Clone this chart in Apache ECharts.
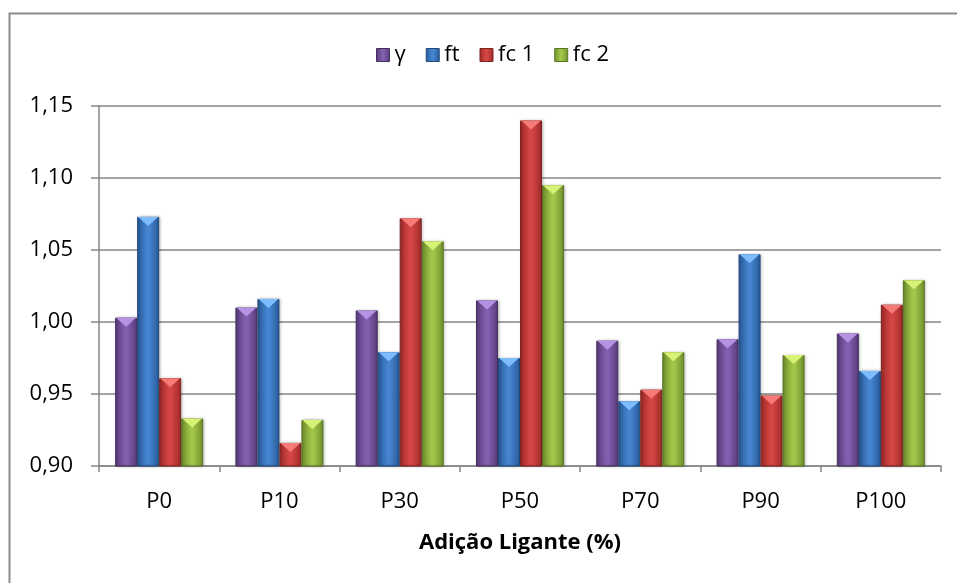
<!DOCTYPE html>
<html>
<head>
<meta charset="utf-8">
<script src="https://cdn.jsdelivr.net/npm/echarts@6/dist/echarts.min.js"></script>
<style>
  html, body { margin: 0; padding: 0; background: #fff; }
  #chart { width: 957px; height: 583px; }
</style>
</head>
<body>
<div id="chart"></div>
<script>
// Categories and measured ratios per mix
const categories = ['P0', 'P10', 'P30', 'P50', 'P70', 'P90', 'P100'];
const seriesNames = ['γ', 'ft', 'fc 1', 'fc 2'];
const gammaValues = [1.003, 1.010, 1.008, 1.015, 0.987, 0.988, 0.992];
const ftValues    = [1.073, 1.016, 0.979, 0.975, 0.945, 1.047, 0.966];
const fc1Values   = [0.961, 0.916, 1.072, 1.140, 0.953, 0.949, 1.012];
const fc2Values   = [0.933, 0.932, 1.056, 1.095, 0.979, 0.977, 1.029];
const yTicks = { min: 0.90, max: 1.15, interval: 0.05 };

const allValues = [gammaValues, ftValues, fc1Values, fc2Values];

// dark edge, light centre, bevel tip colour
const palette = [
  { edge: '#573b7c', mid: '#8360ae', light: '#b592e4', border: '#46305f' },
  { edge: '#295a99', mid: '#4484d0', light: '#7cbcff', border: '#21497c' },
  { edge: '#9e2a28', mid: '#d44644', light: '#f67a76', border: '#7e2220' },
  { edge: '#6f8f2c', mid: '#a2c64a', light: '#d8f276', border: '#5a7424' }
];

const BAR_W = 22;
const FONT = 'Open Sans';

function bodyGradient(c) {
  return new echarts.graphic.LinearGradient(0, 0, 1, 0, [
    { offset: 0, color: c.edge },
    { offset: 0.45, color: c.mid },
    { offset: 0.55, color: c.mid },
    { offset: 1, color: c.edge }
  ]);
}

const series = [];
allValues.forEach((vals, i) => {
  series.push({
    name: seriesNames[i],
    type: 'bar',
    data: vals,
    barWidth: BAR_W,
    barGap: '0%',
    itemStyle: {
      color: bodyGradient(palette[i]),
      borderColor: palette[i].border,
      borderWidth: 1,
      shadowColor: 'rgba(0,0,0,0.25)',
      shadowBlur: 3,
      shadowOffsetX: 1
    },
    z: 2
  });
});
// bevelled tops
allValues.forEach((vals, i) => {
  series.push({
    name: seriesNames[i],
    type: 'pictorialBar',
    data: vals,
    barWidth: BAR_W,
    barGap: '0%',
    symbol: 'path://M0,0 L10,0 L5,4 Z',
    symbolSize: [BAR_W - 2, 9],
    symbolPosition: 'end',
    symbolOffset: [0, 0],
    itemStyle: { color: palette[i].light },
    z: 3,
    silent: true
  });
});

const chart = echarts.init(document.getElementById('chart'), null, { renderer: 'canvas' });
chart.setOption({
  animation: false,
  backgroundColor: '#fff',
  graphic: [{
    type: 'rect',
    shape: { x: 9.5, y: 13.5, width: 1200, height: 1200 },
    style: { fill: 'none', stroke: '#8c8c8c', lineWidth: 2 },
    silent: true,
    z: -1
  }],
  legend: {
    top: 39,
    left: 371,
    itemWidth: 13,
    itemHeight: 13,
    itemGap: 20,
    data: seriesNames.map((n, i) => ({
      name: n,
      icon: 'rect',
      itemStyle: { color: bodyGradient(palette[i]), borderColor: palette[i].border, borderWidth: 1 }
    })),
    textStyle: { fontFamily: FONT, fontSize: 22, color: '#000' }
  },
  grid: { left: 99, right: 16, top: 106, bottom: 117 },
  xAxis: {
    type: 'category',
    data: categories,
    name: 'Adição Ligante (%)',
    nameLocation: 'middle',
    nameGap: 66,
    nameTextStyle: { fontFamily: FONT, fontSize: 22, fontWeight: 'bold', color: '#000' },
    axisLine: { lineStyle: { color: '#868686', width: 1.5 } },
    axisTick: { show: true, length: 6, lineStyle: { color: '#868686', width: 1.5 } },
    axisLabel: { fontFamily: FONT, fontSize: 22, color: '#000', margin: 25 }
  },
  yAxis: {
    type: 'value',
    min: yTicks.min,
    max: yTicks.max,
    interval: yTicks.interval,
    axisLine: { show: true, lineStyle: { color: '#868686', width: 1.5 } },
    axisTick: { show: true, inside: false, length: 8, lineStyle: { color: '#868686', width: 1.5 } },
    splitLine: { lineStyle: { color: '#868686', width: 1.5 } },
    axisLabel: {
      fontFamily: FONT, fontSize: 22, color: '#000', margin: 26,
      padding: [5, 0, 0, 0],
      formatter: v => v.toFixed(2).replace('.', ',')
    }
  },
  series: series
});
</script>
</body>
</html>
